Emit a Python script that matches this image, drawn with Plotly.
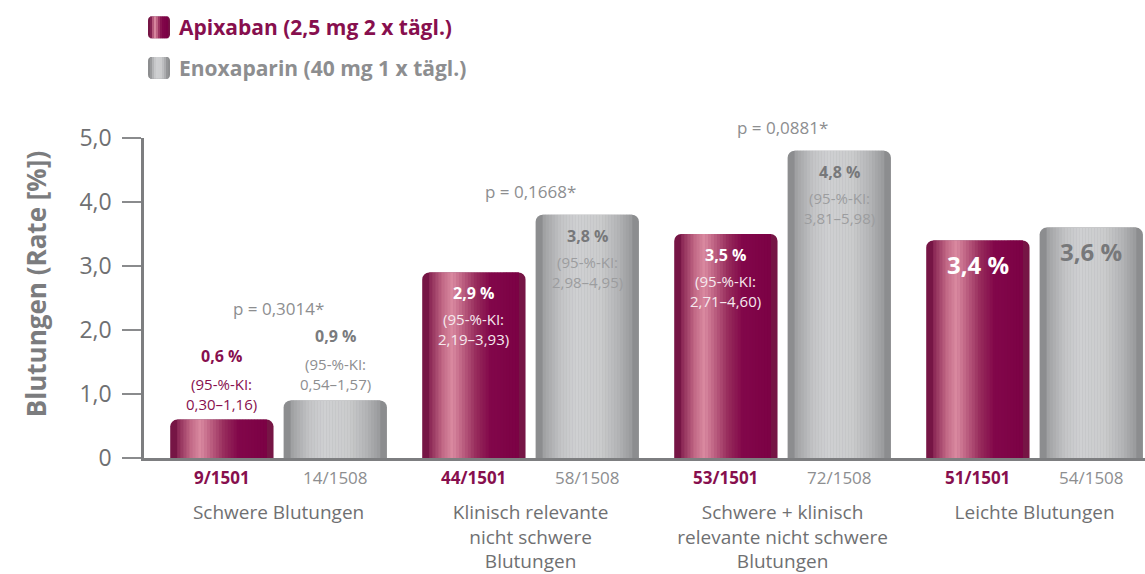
import plotly.graph_objects as go

# ---- data ----
categories = ["Schwere Blutungen",
              "Klinisch relevante<br>nicht schwere<br>Blutungen",
              "Schwere + klinisch<br>relevante nicht schwere<br>Blutungen",
              "Leichte Blutungen"]
series_names = ["Apixaban (2,5 mg 2 x tägl.)", "Enoxaparin (40 mg 1 x tägl.)"]
rate_apix = [0.6, 2.9, 3.5, 3.4]
rate_enox = [0.9, 3.8, 4.8, 3.6]
rate_text_apix = ["0,6 %", "2,9 %", "3,5 %", "3,4 %"]
rate_text_enox = ["0,9 %", "3,8 %", "4,8 %", "3,6 %"]
ci_apix = ["0,30–1,16", "2,19–3,93", "2,71–4,60", None]
ci_enox = ["0,54–1,57", "2,98–4,95", "3,81–5,98", None]
counts_apix = ["9/1501", "44/1501", "53/1501", "51/1501"]
counts_enox = ["14/1508", "58/1508", "72/1508", "54/1508"]
p_values = ["p = 0,3014*", "p = 0,1668*", "p = 0,0881*", None]
y_ticks = [0, 1, 2, 3, 4, 5]
y_tick_text = ["0", "1,0", "2,0", "3,0", "4,0", "5,0"]

# ---- style ----
FONT = "Open Sans"
MAGENTA = "#870f4e"
GRAY_TXT = "#8d8e90"
DARK_GRAY = "#6f7072"
W = 0.41
OFF_A, OFF_E = -0.43, 0.02
PX_PER_UNIT = 252.0
PLOT_W = 1001
X_RANGE = [-0.534, -0.534 + PLOT_W / PX_PER_UNIT]
R_PX = 7
N_STRIPS = 30

grad_apix = [(0.0, "#701243"), (0.08, "#8e2b58"), (0.2, "#c46b88"), (0.29, "#da8aa1"),
             (0.38, "#c06585"), (0.52, "#972c5c"), (0.66, "#82074a"), (1.0, "#7a0044")]
grad_enox = [(0.0, "#8a8b8d"), (0.1, "#a5a6a8"), (0.25, "#c4c5c7"), (0.4, "#cfd0d2"),
             (0.62, "#cbcccd"), (0.8, "#b3b4b6"), (0.93, "#98999b"), (1.0, "#8a8b8d")]


def hex2rgb(h):
    h = h.lstrip("#")
    return [int(h[i:i + 2], 16) for i in (0, 2, 4)]


def grad_color(stops, f):
    for (f0, c0), (f1, c1) in zip(stops[:-1], stops[1:]):
        if f0 <= f <= f1:
            t = (f - f0) / (f1 - f0) if f1 > f0 else 0
            a, b = hex2rgb(c0), hex2rgb(c1)
            r = [round(a[k] + (b[k] - a[k]) * t) for k in range(3)]
            return "rgb(%d,%d,%d)" % tuple(r)
    return stops[-1][1]


xi = list(range(len(categories)))
fig = go.Figure()


def add_gradient_bars(name, rates, off, stops, base_color):
    fig.add_trace(go.Bar(
        x=xi, y=rates, offset=off, width=W, name=name,
        marker=dict(color=base_color, cornerradius=R_PX, line=dict(width=0)),
        showlegend=False, hovertemplate=name + ": %{y:.1f} %<extra></extra>",
    ))
    r = R_PX / PX_PER_UNIT
    sw = (W - 2 * r) / N_STRIPS
    for k in range(N_STRIPS):
        o = off + r + k * sw
        f = (r + (k + 0.5) * sw) / W
        fig.add_trace(go.Bar(
            x=xi, y=rates, offset=o, width=sw + 0.0015,
            marker=dict(color=grad_color(stops, f), line=dict(width=0)),
            showlegend=False, hoverinfo="skip",
        ))


add_gradient_bars(series_names[0], rate_apix, OFF_A, grad_apix, "#761545")
add_gradient_bars(series_names[1], rate_enox, OFF_E, grad_enox, "#8c8d8f")

ca = OFF_A + W / 2
ce = OFF_E + W / 2
ann = []
for i in xi:
    for rate, rtxt, ci, cx, is_apix in [(rate_apix[i], rate_text_apix[i], ci_apix[i], ca, True),
                                        (rate_enox[i], rate_text_enox[i], ci_enox[i], ce, False)]:
        above = rate < 1.5
        if above:
            vcol = MAGENTA if is_apix else "#7a7b7d"
            ccol = MAGENTA if is_apix else GRAY_TXT
        else:
            vcol = "white" if is_apix else "#77787a"
            ccol = "#f6e9ee" if is_apix else "#9c9d9f"
        big = ci is None
        if above:
            vshift, cshift = 64, 26
        else:
            vshift, cshift = (-24 if big else -21), -57
        ann.append(dict(x=i + cx, y=rate, xref="x", yref="y", yshift=vshift,
                        text="<b>%s</b>" % rtxt, showarrow=False, yanchor="middle",
                        font=dict(family=FONT, size=24 if big else 16, color=vcol)))
        if ci:
            ann.append(dict(x=i + cx, y=rate, xref="x", yref="y", yshift=cshift,
                            text="(95-%%-KI:<br>%s)" % ci, showarrow=False, yanchor="middle",
                            font=dict(family=FONT, size=15, color=ccol)))
    ann.append(dict(x=i + ca, y=0, xref="x", yref="y", yshift=-19, text="<b>%s</b>" % counts_apix[i],
                    showarrow=False, yanchor="middle", font=dict(family=FONT, size=17, color=MAGENTA)))
    ann.append(dict(x=i + ce, y=0, xref="x", yref="y", yshift=-19, text=counts_enox[i],
                    showarrow=False, yanchor="middle", font=dict(family=FONT, size=17, color=GRAY_TXT)))
    if p_values[i]:
        top = max(rate_apix[i], rate_enox[i])
        ann.append(dict(x=i, y=top, xref="x", yref="y", yshift=92 if top < 1.5 else 23,
                        text=p_values[i], showarrow=False, yanchor="middle",
                        font=dict(family=FONT, size=17, color=GRAY_TXT)))


def px2paper(px, py):
    # pixel -> paper coords (plot area: x 144..1145, y 138..462)
    return (px - 144) / PLOT_W, (462 - py) / 324


# y-axis title
tx, ty = px2paper(36, 286)
ann.append(dict(x=tx, y=ty, xref="paper", yref="paper", xanchor="center", yanchor="middle",
                text="<b>Blutungen (Rate [%])</b>", textangle=-90, showarrow=False,
                font=dict(family=FONT, size=26, color="#7b7c7e")))

# custom legend
shapes = []
for j, (nm, stops, col, base) in enumerate([(series_names[0], grad_apix, MAGENTA, "#761545"),
                                            (series_names[1], grad_enox, GRAY_TXT, "#8c8d8f")]):
    y0p, y1p = 15 + j * 41, 37 + j * 41
    x0p, x1p = 148, 170
    X0, Y0 = px2paper(x0p, y1p)
    X1, Y1 = px2paper(x1p, y0p)
    rx, ry = 4 / PLOT_W, 4 / 324
    path = ("M %f,%f L %f,%f Q %f,%f %f,%f L %f,%f Q %f,%f %f,%f L %f,%f Q %f,%f %f,%f "
            "L %f,%f Q %f,%f %f,%f Z") % (
        X0 + rx, Y0, X1 - rx, Y0, X1, Y0, X1, Y0 + ry, X1, Y1 - ry, X1, Y1, X1 - rx, Y1,
        X0 + rx, Y1, X0, Y1, X0, Y1 - ry, X0, Y0 + ry, X0, Y0, X0 + rx, Y0)
    shapes.append(dict(type="path", xref="paper", yref="paper", path=path,
                       fillcolor=base, line=dict(width=0)))
    ns = 9
    for k in range(ns):
        sx0 = x0p + 2 + k * (x1p - x0p - 4) / ns
        sx1 = sx0 + (x1p - x0p - 4) / ns + 0.3
        a0, b0 = px2paper(sx0, y1p)
        a1, b1 = px2paper(sx1, y0p)
        shapes.append(dict(type="rect", xref="paper", yref="paper", x0=a0, x1=a1, y0=b0, y1=b1,
                           fillcolor=grad_color(stops, (k + 0.5) / ns), line=dict(width=0)))
    lx, ly = px2paper(177, (y0p + y1p) / 2)
    ann.append(dict(x=lx, y=ly, xref="paper", yref="paper", xanchor="left", yanchor="middle",
                    text="<b>%s</b>" % nm, showarrow=False,
                    font=dict(family=FONT, size=21, color=col)))

fig.update_layout(
    width=1145, height=574,
    margin=dict(l=144, r=0, t=138, b=112),
    barmode="overlay",
    plot_bgcolor="white", paper_bgcolor="white",
    showlegend=False,
    annotations=ann, shapes=shapes,
    font=dict(family=FONT, color=DARK_GRAY),
)
fig.update_xaxes(
    range=X_RANGE, tickvals=xi, ticktext=categories,
    showgrid=False, zeroline=False, showline=True, linecolor="#7d7e80", linewidth=3,
    ticks="", ticklabelstandoff=35, tickfont=dict(family=FONT, size=19, color=DARK_GRAY),
)
fig.update_yaxes(
    range=[0, 5], tickvals=y_ticks, ticktext=y_tick_text,
    showgrid=False, zeroline=False, showline=True, linecolor="#7d7e80", linewidth=2.5,
    ticks="outside", ticklen=19, tickwidth=1.5, tickcolor="#8a8b8d", ticklabelstandoff=6,
    tickfont=dict(family=FONT, size=23, color=DARK_GRAY),
)

# drop the default 8px page margin so the figure fills the window exactly
fig.write_html("out.html", config={"displayModeBar": False},
               post_script="document.body.style.margin='0';")
